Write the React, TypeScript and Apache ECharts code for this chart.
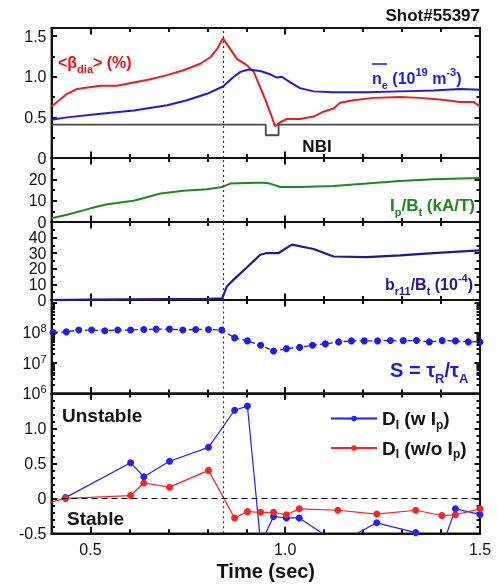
import React, { useEffect, useRef } from 'react';
import * as echarts from 'echarts';

// ---------- data ----------
const T_MIN = 0.4;
const T_MAX = 1.5;
const xLabelValues = [0.5, 1.0, 1.5];
const markTime = 0.84;

const betaT = [0.40, 0.44, 0.466, 0.526, 0.568, 0.611, 0.654, 0.697, 0.739, 0.782, 0.808, 0.825, 0.840, 0.859, 0.876, 0.902, 0.919, 0.936, 0.953, 0.966, 0.974, 0.987, 1.004, 1.038, 1.073, 1.098, 1.124, 1.141, 1.175, 1.226, 1.295, 1.346, 1.397, 1.449, 1.483, 1.50];
const betaV = [0.635, 0.79, 0.85, 0.89, 0.89, 0.93, 0.97, 1.02, 1.08, 1.16, 1.24, 1.34, 1.475, 1.34, 1.22, 1.14, 1.06, 0.87, 0.67, 0.50, 0.39, 0.44, 0.48, 0.48, 0.51, 0.57, 0.61, 0.68, 0.71, 0.74, 0.75, 0.74, 0.72, 0.69, 0.69, 0.635];

const neT = [0.40, 0.44, 0.526, 0.611, 0.697, 0.748, 0.799, 0.840, 0.868, 0.885, 0.906, 0.936, 0.961, 0.979, 0.991, 1.013, 1.038, 1.073, 1.124, 1.209, 1.295, 1.380, 1.449, 1.50];
const neV = [0.47, 0.50, 0.545, 0.586, 0.65, 0.71, 0.79, 0.88, 1.00, 1.06, 1.09, 1.07, 1.03, 0.99, 1.00, 0.93, 0.86, 0.82, 0.81, 0.81, 0.82, 0.83, 0.85, 0.84];

const nbiT = [0.40, 0.950, 0.950, 0.983, 0.983, 1.50];
const nbiV = [0.41, 0.41, 0.28, 0.28, 0.41, 0.41];

const ipT = [0.40, 0.44, 0.50, 0.543, 0.611, 0.68, 0.739, 0.799, 0.838, 0.859, 0.902, 0.944, 0.961, 0.987, 1.038, 1.124, 1.209, 1.295, 1.38, 1.50];
const ipV = [1.8, 3.4, 6.4, 8.3, 10.0, 13.4, 14.6, 15.3, 16.4, 18.0, 18.3, 18.4, 18.0, 16.4, 16.4, 16.9, 18.0, 19.2, 20.0, 20.6];

const brT = [0.40, 0.50, 0.60, 0.70, 0.80, 0.838, 0.850, 0.867, 0.902, 0.936, 0.953, 0.983, 1.017, 1.073, 1.124, 1.209, 1.295, 1.38, 1.50];
const brV = [0.0, 0.2, 0.4, 0.6, 0.8, 1.0, 8.6, 12.9, 21.0, 29.0, 30.1, 30.1, 35.5, 32.7, 27.9, 27.5, 28.6, 30.1, 31.8];

const sT = [0.404, 0.438, 0.470, 0.503, 0.537, 0.570, 0.603, 0.637, 0.669, 0.703, 0.737, 0.770, 0.803, 0.837, 0.870, 0.903, 0.937, 0.970, 1.003, 1.037, 1.070, 1.103, 1.137, 1.170, 1.203, 1.237, 1.270, 1.303, 1.337, 1.370, 1.403, 1.437, 1.470, 1.500];
const sV = [1.02e8, 1.07e8, 1.23e8, 1.23e8, 1.17e8, 1.23e8, 1.23e8, 1.29e8, 1.32e8, 1.32e8, 1.23e8, 1.29e8, 1.29e8, 1.23e8, 6.8e7, 5.4e7, 3.9e7, 2.5e7, 3.0e7, 3.3e7, 3.9e7, 4.3e7, 5.0e7, 5.4e7, 5.4e7, 5.4e7, 5.6e7, 5.5e7, 5.6e7, 5.0e7, 5.5e7, 5.4e7, 5.0e7, 5.0e7];

const dT = [0.436, 0.603, 0.637, 0.703, 0.803, 0.870, 0.903, 0.937, 0.970, 1.003, 1.036, 1.135, 1.235, 1.335, 1.402, 1.437, 1.500];
const dWithIp = [0.01, 0.51, 0.31, 0.53, 0.73, 1.26, 1.32, -0.65, -0.26, -0.28, -0.28, -0.65, -0.35, -0.49, -0.70, -0.15, -0.23];
const dTWo = [0.38, 0.436, 0.603, 0.637, 0.703, 0.803, 0.870, 0.903, 0.937, 0.970, 1.003, 1.036, 1.135, 1.235, 1.335, 1.402, 1.437, 1.500];
const dWithoutIp = [-0.08, 0.0, 0.04, 0.22, 0.16, 0.40, -0.28, -0.19, -0.20, -0.20, -0.235, -0.15, -0.17, -0.225, -0.17, -0.245, -0.235, -0.15];

const legendNames = ['DwIp', 'DwoIp'];

// ---------- helpers ----------
const FONT = '"Liberation Sans", Arial, sans-serif';
const AX = '#111';
const zip = (a: number[], b: number[]) => a.map((t, i) => [t, b[i]]);

const GRID_LEFT = 51.5;
const GRID_RIGHT = 17;
const CHART_W = 497;
const grids = [
  { top: 28, height: 130 },
  { top: 158, height: 64 },
  { top: 222, height: 78 },
  { top: 300, height: 93.5 },
  { top: 393.5, height: 139.8 },
];

const numFmt = (v: number) => (v === 0 ? '0' : v.toFixed(1));
const intFmt = (v: number) => String(Math.round(v));
const logMinor: number[] = [];
[1e6, 1e7, 1e8].forEach((d) => { for (let k = 2; k <= 9; k++) logMinor.push(k * d); });

const panels = [
  { type: 'value', min: 0, max: 1.6, labels: [0, 0.5, 1.0, 1.5], majorStep: 0.5, minorStep: 0.25, fmt: numFmt },
  { type: 'value', min: 0, max: 30, labels: [0, 10, 20], majorStep: 10, minorStep: 5, fmt: intFmt },
  { type: 'value', min: 0, max: 50, labels: [0, 10, 20, 30, 40], majorStep: 10, minorStep: 5, fmt: intFmt },
  { type: 'log', min: 1e6, max: 1.2e9, labels: [1e6, 1e7, 1e8], majorStep: 0, minorStep: 0, fmt: (v: number) => `{b|10}{s|${Math.round(Math.log10(v))}}` },
  { type: 'value', min: -0.5, max: 1.5, labels: [-0.5, 0, 0.5, 1.0], majorStep: 0.5, minorStep: 0.1, fmt: numFmt },
];

export default function App() {
  const ref = useRef<HTMLDivElement>(null);
  useEffect(() => {
    if (!ref.current) return;
    const chart = echarts.init(ref.current, undefined, { renderer: 'svg' });

    const tickLine = { color: AX, width: 2 };
    const axLine = { show: true, onZero: false, lineStyle: { color: AX, width: 1.8 } };
    const xAxis: any[] = [];
    const yAxis: any[] = [];
    grids.forEach((_, gi) => {
      const last = gi === grids.length - 1;
      const xBase = { type: 'value', gridIndex: gi, splitLine: { show: false }, axisLine: axLine, axisLabel: { show: false } };
      // 0: data axis with minor ticks every 0.1 (bottom)
      xAxis.push({
        ...xBase, min: T_MIN, max: T_MAX, interval: 0.1, position: 'bottom',
        axisTick: { show: true, inside: true, length: 4, lineStyle: tickLine },
        axisLabel: last ? { show: true, customValues: xLabelValues, formatter: (v: number) => v.toFixed(1), fontSize: 16, color: AX, fontFamily: FONT, margin: 8, showMinLabel: true, showMaxLabel: true, hideOverlap: false } : { show: false },
        ...(last ? { name: 'Time (sec)', nameLocation: 'middle', nameGap: 28, nameTextStyle: { fontSize: 20, fontWeight: 'bold', color: AX, fontFamily: FONT } } : {}),
      });
      // 1: major ticks at 0.5, 1.0, 1.5 (axis measured back from 1.5)
      xAxis.push({ ...xBase, min: 0, max: T_MAX - T_MIN, interval: 0.5, inverse: true, position: 'bottom', axisTick: { show: true, inside: true, length: 6.5, lineStyle: tickLine } });
      // 2,3: mirrored on top
      xAxis.push({ ...xBase, min: T_MIN, max: T_MAX, interval: 0.1, position: 'top', axisTick: { show: true, inside: true, length: 4, lineStyle: tickLine } });
      xAxis.push({ ...xBase, min: 0, max: T_MAX - T_MIN, interval: 0.5, inverse: true, position: 'top', axisTick: { show: true, inside: true, length: 6.5, lineStyle: tickLine } });

      const p = panels[gi];
      const labelSets = [p.labels.filter((_, i) => i % 2 === 0), p.labels.filter((_, i) => i % 2 === 1)];
      const isLog = p.type === 'log';
      const yBase: any = { type: p.type, gridIndex: gi, min: p.min, max: p.max, splitLine: { show: false }, axisLine: axLine };
      if (isLog) yBase.logBase = 10;
      const labelOpt = (set: number[]) => ({
        show: set.length > 0, customValues: set, formatter: p.fmt, fontSize: 16, color: AX, fontFamily: FONT, margin: 5,
        showMinLabel: true, showMaxLabel: true, hideOverlap: false,
        rich: { b: { fontSize: 16, color: AX, fontFamily: FONT, lineHeight: 20 }, s: { fontSize: 11, color: AX, fontFamily: FONT, verticalAlign: 'top' } },
      });
      const major = isLog ? {} : { interval: p.majorStep };
      const minor = isLog ? {} : { interval: p.minorStep };
      yAxis.push({ ...yBase, ...major, position: 'left', axisTick: { show: true, inside: true, length: 5.5, lineStyle: tickLine }, axisLabel: labelOpt(labelSets[0]) });
      yAxis.push({ ...yBase, ...minor, position: 'left', axisTick: { show: !isLog, inside: true, length: 3.5, lineStyle: tickLine }, axisLabel: labelOpt(labelSets[1]) });
      yAxis.push({ ...yBase, ...major, position: 'right', axisTick: { show: true, inside: true, length: 5.5, lineStyle: tickLine }, axisLabel: { show: false } });
      yAxis.push({ ...yBase, ...minor, position: 'right', axisTick: { show: !isLog, inside: true, length: 3.5, lineStyle: tickLine }, axisLabel: { show: false } });
    });

    const vLine = { xAxis: markTime, lineStyle: { type: [2, 3], color: '#333', width: 1.2 } };
    const mark = (extra: any[] = []) => ({
      silent: true, symbol: ['none', 'none'], label: { show: false }, animation: false,
      lineStyle: { type: 'solid', color: AX, width: 2 }, data: [vLine, ...extra],
    });

    // log-axis minor ticks (2..9 per decade) as short segments in data space
    const dxPerPx = (T_MAX - T_MIN) / (CHART_W - GRID_LEFT - GRID_RIGHT);
    const logTickSegs: any[] = [];
    logMinor.forEach((v) => {
      const st = { type: 'solid', color: AX, width: 2 };
      logTickSegs.push([{ coord: [T_MIN, v], lineStyle: st }, { coord: [T_MIN + 3.5 * dxPerPx, v] }]);
      logTickSegs.push([{ coord: [T_MAX, v], lineStyle: st }, { coord: [T_MAX - 3.5 * dxPerPx, v] }]);
    });

    const ax = (gi: number) => ({ xAxisIndex: gi * 4, yAxisIndex: gi * 4 });
    const plain = (color: string, width: number) => ({ type: 'line', showSymbol: false, symbol: 'none', lineStyle: { color, width }, itemStyle: { color } });

    const series: any[] = [
      { ...plain('#ee1c1c', 2), ...ax(0), name: 'beta', data: zip(betaT, betaV), markLine: mark() },
      { ...plain('#1a1af0', 2), ...ax(0), name: 'ne', data: zip(neT, neV) },
      { ...plain('#4a4a4a', 1.8), ...ax(0), name: 'nbi', data: zip(nbiT, nbiV) },
      { ...plain('#1a8a1a', 2), ...ax(1), name: 'ip', data: zip(ipT, ipV), markLine: mark() },
      { ...plain('#1a1a9a', 2.2), ...ax(2), name: 'br', data: zip(brT, brV), markLine: mark() },
      {
        type: 'line', ...ax(3), name: 'S', data: zip(sT, sV), symbol: 'circle', symbolSize: 7, showSymbol: true,
        lineStyle: { color: '#1c1cf0', width: 1.3, type: [5, 3] }, itemStyle: { color: '#1c1cf0' }, markLine: mark(logTickSegs),
      },
      {
        type: 'line', ...ax(4), name: legendNames[0], data: zip(dT, dWithIp), symbol: 'circle', symbolSize: 7,
        lineStyle: { color: '#2020ff', width: 1.2 }, itemStyle: { color: '#2020ff' },
        markLine: mark([{ yAxis: 0, lineStyle: { type: [6, 4], color: '#000', width: 1.2 } }]),
      },
      {
        type: 'line', ...ax(4), name: legendNames[1], data: zip(dTWo, dWithoutIp), symbol: 'circle', symbolSize: 7,
        lineStyle: { color: '#ff2020', width: 1.2 }, itemStyle: { color: '#ff2020' },
      },
    ];

    const txt = (x: number, y: number, text: string, rich: any, align = 'left') => ({
      type: 'text', x, y, silent: true,
      style: { text, rich, align, verticalAlign: 'middle', font: `bold 16px ${FONT}` },
    });
    const richSet = (color: string, main: number, sub: number, lh: number) => ({
      m: { fill: color, fontSize: main, fontWeight: 'bold', fontFamily: FONT, lineHeight: lh },
      s: { fill: color, fontSize: sub, fontWeight: 'bold', fontFamily: FONT, verticalAlign: 'bottom' },
      p: { fill: color, fontSize: sub, fontWeight: 'bold', fontFamily: FONT, verticalAlign: 'top' },
    });

    const graphic: any[] = [
      txt(480, 15.5, '{m|Shot#55397}', richSet('#111', 17, 11, 22), 'right'),
      txt(58, 62, '{m|<β}{s|dia}{m|> (%)}', richSet('#ee1111', 16, 11, 24)),
      txt(372, 78, '{m|n}{s|e}{m| (10}{p|19}{m| m}{p|-3}{m|)}', richSet('#1a1aee', 16, 11, 24)),
      { type: 'line', silent: true, shape: { x1: 372, y1: 64, x2: 387, y2: 64 }, style: { stroke: '#1a1aee', lineWidth: 1.5 } },
      txt(317, 146, '{m|NBI}', richSet('#111', 17, 11, 22), 'center'),
      txt(390, 205, '{m|I}{s|p}{m|/B}{s|t}{m| (kA/T)}', richSet('#1a8a1a', 17, 11, 24)),
      txt(385, 284, '{m|b}{s|r11}{m|/B}{s|t}{m| (10}{p|-4}{m|)}', richSet('#1a1a99', 16, 11, 24)),
      txt(390, 370, '{m|S = τ}{s|R}{m|/τ}{s|A}', richSet('#1a1aee', 20, 13, 30)),
      txt(62, 415, '{m|Unstable}', richSet('#111', 19, 12, 24)),
      txt(67, 518, '{m|Stable}', richSet('#111', 19, 12, 24)),
    ];

    const legendLabel: Record<string, string> = {
      DwIp: '{m|D}{s|I}{m| (w I}{s|p}{m|)}',
      DwoIp: '{m|D}{s|I}{m| (w/o I}{s|p}{m|)}',
    };

    chart.setOption({
      animation: false,
      textStyle: { fontFamily: FONT },
      grid: grids.map((g) => ({
        left: GRID_LEFT, right: GRID_RIGHT, top: g.top, height: g.height, containLabel: false, outerBoundsMode: 'none',
        show: true, borderColor: AX, borderWidth: 1.8,
      })),
      xAxis,
      yAxis,
      legend: {
        data: legendNames, left: 325, top: 404, orient: 'vertical', itemGap: 8, itemWidth: 46, itemHeight: 7,
        formatter: (n: string) => legendLabel[n],
        textStyle: {
          rich: {
            m: { fontSize: 19, fontWeight: 'bold', color: '#111', fontFamily: FONT, lineHeight: 24 },
            s: { fontSize: 12, fontWeight: 'bold', color: '#111', fontFamily: FONT, verticalAlign: 'bottom' },
          },
        },
      },
      series,
      graphic,
    });
    return () => chart.dispose();
  }, []);
  return <div ref={ref} style={{ position: 'fixed', left: 0, top: 0, width: 497, height: 586 }} />;
}
